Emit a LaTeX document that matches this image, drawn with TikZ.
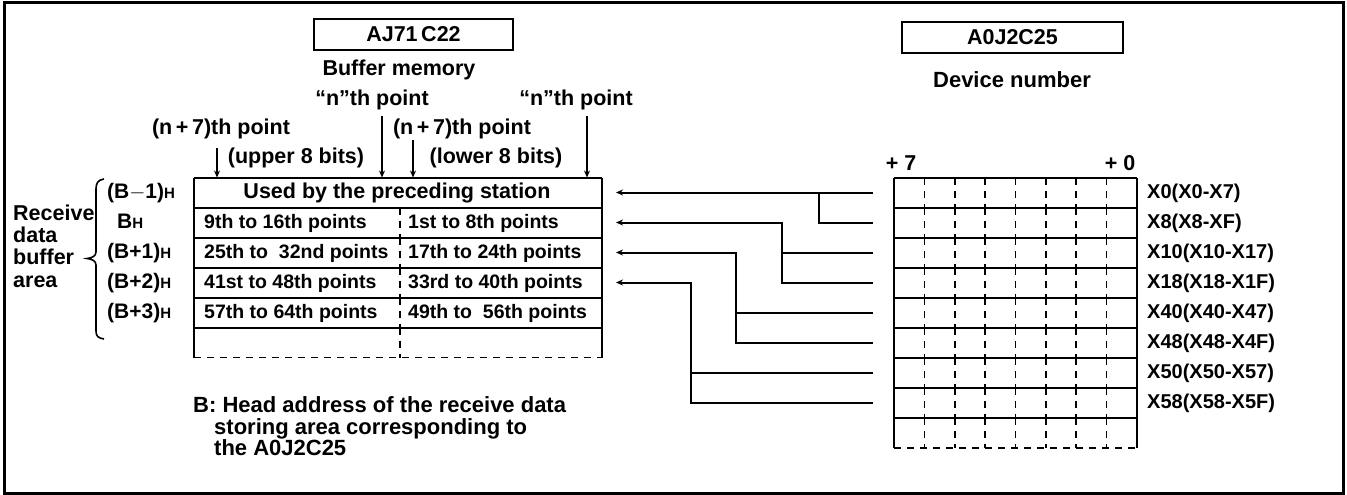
\documentclass[tikz,border=0pt]{standalone}
\usepackage{fontspec}
\setmainfont{Liberation Sans}
\usetikzlibrary{arrows.meta}
\tikzset{
  lbl/.style={font=\fontsize{21.5}{22}\selectfont\bfseries, inner sep=0pt, text height=15pt, text depth=4pt},
  cell/.style={font=\fontsize{19.5}{22}\selectfont\bfseries, inner sep=0pt, text height=15pt, text depth=4pt},
  xlbl/.style={font=\fontsize{20}{22}\selectfont\bfseries, inner sep=0pt, text height=15pt, text depth=4pt},
  note/.style={font=\fontsize{22}{22}\selectfont\bfseries, inner sep=0pt, text height=15pt, text depth=4pt},
  titlebox/.style={draw, line width=2.2pt, inner sep=0pt, minimum height=31pt, font=\fontsize{21.5}{22}\selectfont\bfseries},
  tbl/.style={line width=2pt},
  conn/.style={line width=2pt},
  arr/.style={line width=1.6pt, -{Stealth[length=7pt,width=6pt]}},
  dsh/.style={line width=1.6pt, dash pattern=on 7pt off 6pt},
  brc/.style={line width=1.6pt},
}
\newcommand{\hsub}{{\fontsize{15}{15}\selectfont H}}
\begin{document}
\begin{tikzpicture}[x=1pt,y=-1pt]
\useasboundingbox (0,0) rectangle (1347,495);
\draw[line width=3pt] (4,3) rectangle (1343,493);

% titles
\node[titlebox, minimum width=199pt] (aj) at (413.5,34.5) {AJ71\,C22};
\node[titlebox, minimum width=221pt] (a0) at (1012.5,37.5) {A0J2C25};
\node[lbl] (bufmem) at (399,70) {Buffer memory};
\node[lbl, font=\fontsize{22}{22}\selectfont\bfseries] (devnum) at (1012,82) {Device number};

% point labels
\node[lbl] (np1) at (372,100) {“n"th point};
\node[lbl] (np2) at (576,100) {“n"th point};
\node[lbl] (n71) at (221,129) {(n\,+\,7)th point};
\node[lbl] (n72) at (462,129) {(n\,+\,7)th point};
\node[lbl] (up8) at (296,158) {(upper 8 bits)};
\node[lbl] (lo8) at (496,158) {(lower 8 bits)};

% left table
\foreach \y in {177.5,207.5,237.5,267.5,297.5,327.5}
  \draw[tbl] (194,\y) -- (602,\y);
\draw[tbl] (194,177.5) -- (194,357.5);
\draw[tbl] (602,177.5) -- (602,357.5);
\draw[dsh] (194,357.5) -- (602,357.5);
\foreach \y in {207.5,237.5,267.5,297.5,327.5}
  \draw[dsh] (400,\y) -- ++(0,30);

% down arrows onto the table
\coordinate (d1s) at (217,148); \coordinate (d1e) at (217,177.5);
\coordinate (d2s) at (382,116); \coordinate (d2e) at (382,177.5);
\coordinate (d3s) at (413,140); \coordinate (d3e) at (413,177.5);
\coordinate (d4s) at (587,116); \coordinate (d4e) at (587,177.5);
\draw[arr] (d1s) -- (d1e);
\draw[arr] (d2s) -- (d2e);
\draw[arr] (d3s) -- (d3e);
\draw[arr] (d4s) -- (d4e);

% table texts
\node[cell, font=\fontsize{21.5}{22}\selectfont\bfseries] (c0) at (397,192.5) {Used by the preceding station};
\node[cell, anchor=west] (c1l) at (204,222.5) {9th to 16th points};
\node[cell, anchor=west] (c1r) at (408,222.5) {1st to 8th points};
\node[cell, anchor=west] (c2l) at (204,252.5) {25th to\ \ 32nd points};
\node[cell, anchor=west] (c2r) at (408,252.5) {17th to 24th points};
\node[cell, anchor=west] (c3l) at (204,282.5) {41st to 48th points};
\node[cell, anchor=west] (c3r) at (408,282.5) {33rd to 40th points};
\node[cell, anchor=west] (c4l) at (204,312.5) {57th to 64th points};
\node[cell, anchor=west] (c4r) at (408,312.5) {49th to\ \ 56th points};

% address labels
\node[xlbl, font=\fontsize{21}{22}\selectfont\bfseries, anchor=west] (b0) at (107,192.5) {(B$-$1)\hsub};
\node[xlbl, font=\fontsize{21}{22}\selectfont\bfseries, anchor=west] (b1) at (117,222.5) {B\hsub};
\node[xlbl, font=\fontsize{21}{22}\selectfont\bfseries, anchor=west] (b2) at (107,252.5) {(B+1)\hsub};
\node[xlbl, font=\fontsize{21}{22}\selectfont\bfseries, anchor=west] (b3) at (107,282.5) {(B+2)\hsub};
\node[xlbl, font=\fontsize{21}{22}\selectfont\bfseries, anchor=west] (b4) at (107,312.5) {(B+3)\hsub};

\node[lbl, anchor=west] (rc1) at (13,215) {Receive};
\node[lbl, anchor=west] (rc2) at (13,237) {data};
\node[lbl, anchor=west] (rc3) at (13,259) {buffer};
\node[lbl, anchor=west] (rc4) at (13,282) {area};

\draw[brc] (104,179) .. controls (98,180) and (96,183) .. (96,189) -- (96,252)
  .. controls (96,256) and (92,258) .. (87,258.5) .. controls (92,259) and (96,261) .. (96,265)
  -- (96,331) .. controls (96,336) and (98,338) .. (104,339);

% note
\node[note, anchor=west] (nb1) at (193,407) {B: Head address of the receive data};
\node[note, anchor=west] (nb2) at (214,429) {storing area corresponding to};
\node[note, anchor=west] (nb3) at (214,450) {the A0J2C25};

% right table
\node[lbl] (p7) at (901,165) {+ 7};
\node[lbl] (p0) at (1120,165) {+ 0};
\foreach \k in {0,...,8}
  \draw[tbl] (894,178+30*\k) -- (1137,178+30*\k);
\draw[tbl] (894,178) -- (894,448);
\draw[tbl] (1137,178) -- (1137,448);
\draw[dsh] (894,448) -- (1137,448);
\foreach \k in {0,...,8}
  \foreach \j in {1,...,7}
    \draw[dsh] (894+30.375*\j,178+30*\k) -- ++(0,30);

% device labels
\node[xlbl, anchor=west] (x0) at (1147,193) {X0(X0-X7)};
\node[xlbl, anchor=west] (x1) at (1147,223) {X8(X8-XF)};
\node[xlbl, anchor=west] (x2) at (1147,253) {X10(X10-X17)};
\node[xlbl, anchor=west] (x3) at (1147,283) {X18(X18-X1F)};
\node[xlbl, anchor=west] (x4) at (1147,313) {X40(X40-X47)};
\node[xlbl, anchor=west] (x5) at (1147,343) {X48(X48-X4F)};
\node[xlbl, anchor=west] (x6) at (1147,373) {X50(X50-X57)};
\node[xlbl, anchor=west] (x7) at (1147,403) {X58(X58-X5F)};

% connector end points
\coordinate (L1) at (616,192.5);
\coordinate (L2) at (616,222.5);
\coordinate (L3) at (616,252.5);
\coordinate (L4) at (616,282.5);
\coordinate (R1) at (873,192.5);
\coordinate (R2) at (873,222.5);
\coordinate (R3) at (873,252.5);
\coordinate (R4) at (873,282.5);
\coordinate (R5) at (873,312.5);
\coordinate (R6) at (873,342.5);
\coordinate (R7) at (873,372.5);
\coordinate (R8) at (873,402.5);

\draw[arr, line width=2pt] (R1) -- (L1);
\draw[conn] (R2) -- ++(-54,0) |- (R1);
\draw[arr, line width=2pt] (R4) -- ++(-91,0) |- (L2);
\draw[conn] (R3) -- ++(-91,0);
\draw[arr, line width=2pt] (R6) -- ++(-137,0) |- (L3);
\draw[conn] (R5) -- ++(-137,0);
\draw[arr, line width=2pt] (R8) -- ++(-182,0) |- (L4);
\draw[conn] (R7) -- ++(-182,0);
\end{tikzpicture}
\end{document}
